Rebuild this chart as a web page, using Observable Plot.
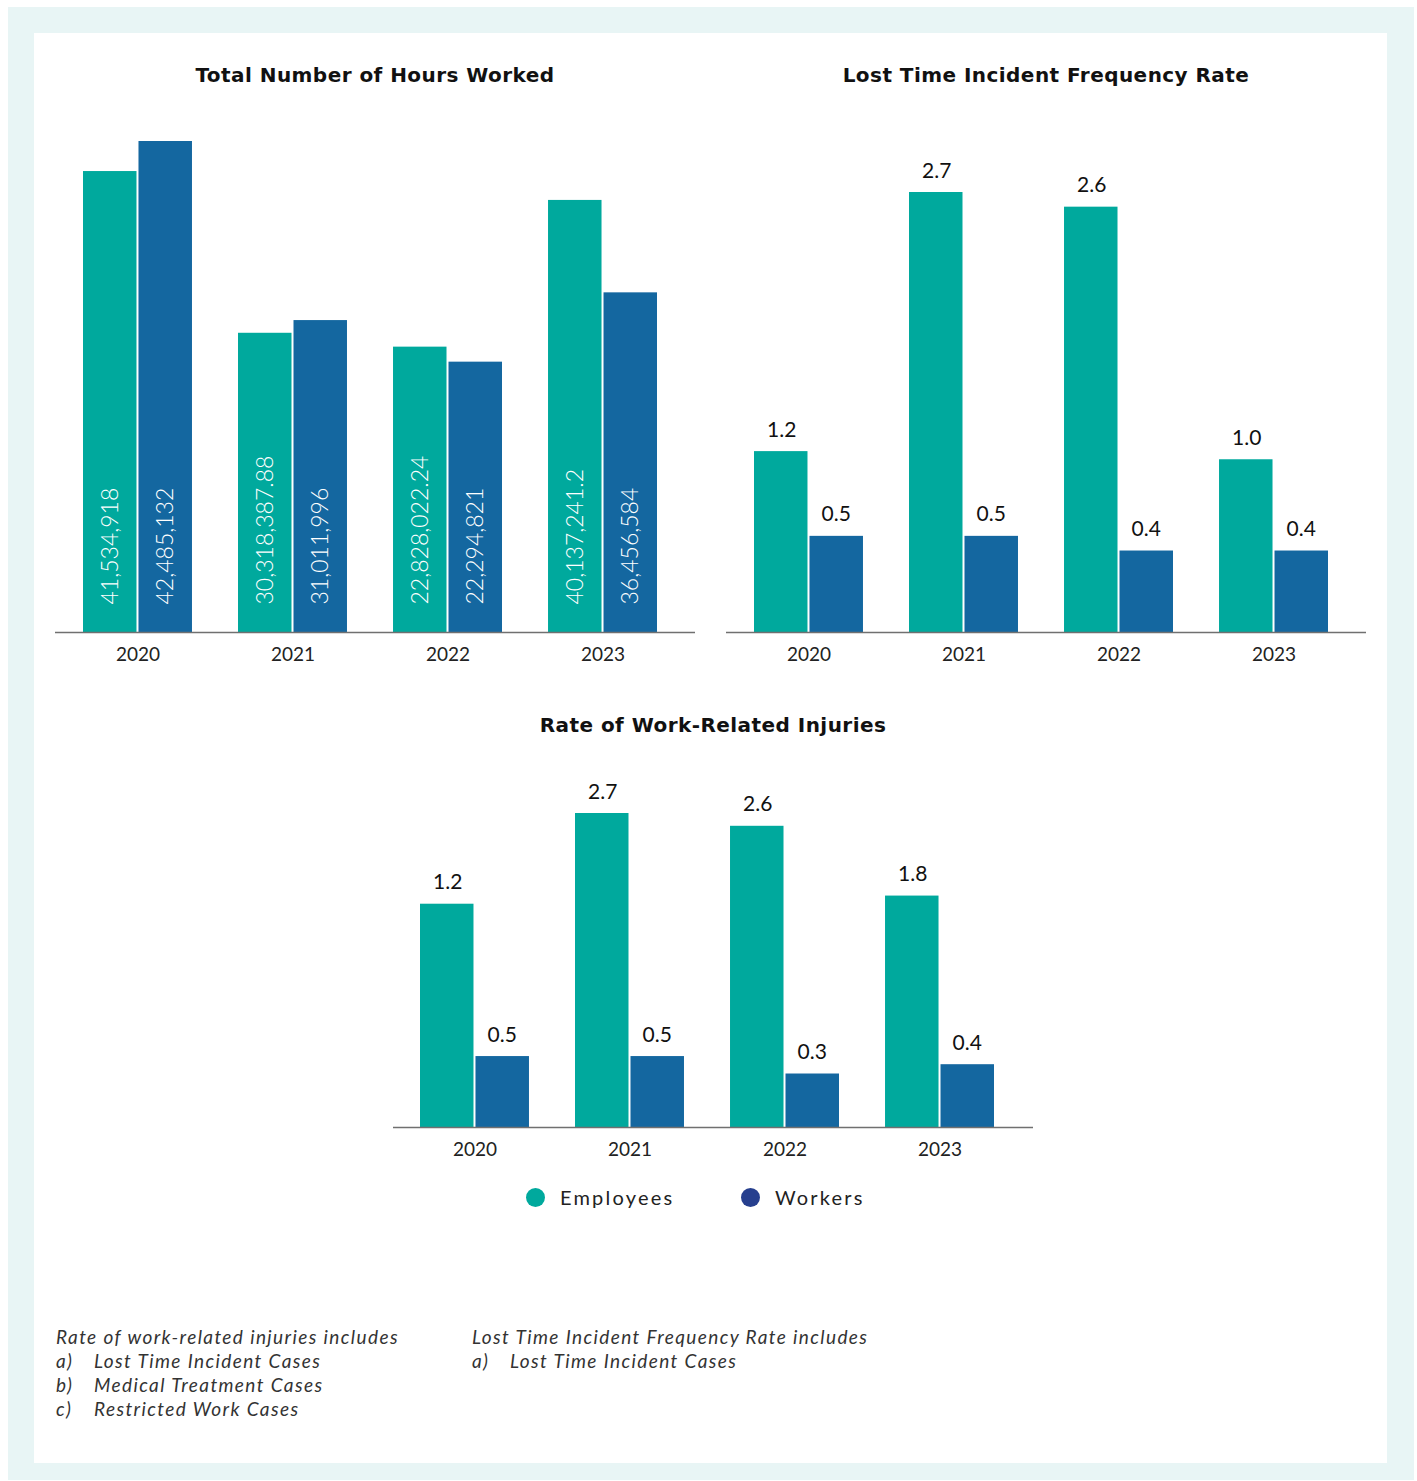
<!DOCTYPE html>
<html><head><meta charset="utf-8">
<script src="https://cdn.jsdelivr.net/npm/d3@7"></script>
<script src="https://cdn.jsdelivr.net/npm/@observablehq/plot@0.6"></script>
<style>
body{margin:0;background:#fff;font-family:Lato,"Noto Sans",sans-serif;}
#page{position:relative;width:1417px;height:1481px;overflow:hidden;}
#outer{position:absolute;left:8px;top:7px;width:1406px;height:1473px;background:#e8f5f5;}
#inner{position:absolute;left:34px;top:33px;width:1353px;height:1430px;background:#fff;}
.title{position:absolute;font-family:"DejaVu Sans",sans-serif;font-weight:700;font-size:20px;letter-spacing:0.45px;color:#111;transform:translate(-50%,-50%);white-space:nowrap;}
.chart{position:absolute;}
.legend{position:absolute;top:1185px;height:24px;display:flex;align-items:center;font-size:20px;letter-spacing:2.2px;color:#222;}
.legend .dot{width:19px;height:19px;border-radius:50%;margin-right:15px;}
.notes{position:absolute;top:1325px;font-style:italic;font-size:19px;letter-spacing:1.4px;line-height:24px;color:#333;white-space:nowrap;}
.notes span.k{display:inline-block;width:38px;}
</style></head>
<body><div id="page"><div id="outer"></div><div id="inner"></div></div>
<script>
const years = ["2020", "2021", "2022", "2023"];
const seriesNames = ["Employees", "Workers"];
const barColors = ["#00a99d", "#1467a0"];
const legendColors = ["#00a99d", "#263f8e"];

// Total Number of Hours Worked (labels)
const hoursEmployees = [41534918, 30318387.88, 22828022.24, 40137241.2];
const hoursWorkers = [42485132, 31011996, 22294821, 36456584];
// bar lengths as drawn in the reference (millions; the reference bars are not to scale)
const hoursEmployeesBar = [39.9, 25.9, 24.7, 37.4];
const hoursWorkersBar = [42.5, 27.0, 23.4, 29.4];

// Lost Time Incident Frequency Rate
const ltifrEmployees = [1.2, 2.7, 2.6, 1.0];
const ltifrWorkers = [0.5, 0.5, 0.4, 0.4];
const ltifrEmployeesBar = [1.11, 2.7, 2.61, 1.06];
const ltifrWorkersBar = [0.59, 0.59, 0.50, 0.50];

// Rate of Work-Related Injuries
const injEmployees = [1.2, 2.7, 2.6, 1.8];
const injWorkers = [0.5, 0.5, 0.3, 0.4];
const injEmployeesBar = [1.92, 2.7, 2.59, 1.99];
const injWorkersBar = [0.61, 0.61, 0.46, 0.54];

const titles = ["Total Number of Hours Worked", "Lost Time Incident Frequency Rate", "Rate of Work-Related Injuries"];
const noteLeft = ["Rate of work-related injuries includes", ["a)", "Lost Time Incident Cases"], ["b)", "Medical Treatment Cases"], ["c)", "Restricted Work Cases"]];
const noteRight = ["Lost Time Incident Frequency Rate includes", ["a)", "Lost Time Incident Cases"]];

const page = document.getElementById("page");
const PAD = 0.297;

function chart({emp, wrk, empBar, wrkBar, fmt, inside, left, top, width, height, marginLeft, marginRight, marginTop, marginBottom, xRange, yMax}) {
  const data = years.map((y, i) => ({year: y, emp: empBar[i], wrk: wrkBar[i], empL: fmt(emp[i]), wrkL: fmt(wrk[i])}));
  const step = (xRange[1] - xRange[0]) / (years.length - PAD);
  const bw = step * (1 - PAD);
  const inset = bw / 2 + 1;
  const off = (bw - 2) / 4 + 0.5;
  const marks = [
    Plot.barY(data, {x: "year", y: "emp", fill: barColors[0], insetRight: inset}),
    Plot.barY(data, {x: "year", y: "wrk", fill: barColors[1], insetLeft: inset}),
    Plot.ruleY([0], {stroke: "#707070", strokeWidth: 1.5})
  ];
  if (inside) {
    marks.push(Plot.text(data, {x: "year", y: d => 0, text: "empL", rotate: -90, textAnchor: "start", lineAnchor: "middle", dx: -off, dy: -28, fill: "#fff", fontSize: 23, fontWeight: 300}));
    marks.push(Plot.text(data, {x: "year", y: d => 0, text: "wrkL", rotate: -90, textAnchor: "start", lineAnchor: "middle", dx: off, dy: -28, fill: "#fff", fontSize: 23, fontWeight: 300}));
  } else {
    marks.push(Plot.text(data, {x: "year", y: "emp", text: "empL", lineAnchor: "bottom", dx: -off, dy: -15, fill: "#111", fontSize: 21}));
    marks.push(Plot.text(data, {x: "year", y: "wrk", text: "wrkL", lineAnchor: "bottom", dx: off, dy: -15, fill: "#111", fontSize: 21}));
  }
  const svg = Plot.plot({
    width, height, marginLeft, marginRight, marginTop, marginBottom,
    style: {fontFamily: "Lato, 'Noto Sans', sans-serif", fontSize: "19px", color: "#222", background: "transparent", overflow: "visible"},
    x: {domain: years, range: xRange, paddingInner: PAD, paddingOuter: 0, round: false, tickSize: 0, tickPadding: 15, label: null},
    y: {domain: [0, yMax], axis: null},
    marks
  });
  svg.classList.add("chart");
  svg.style.left = left + "px";
  svg.style.top = top + "px";
  svg.style.position = "absolute";
  page.appendChild(svg);
}

chart({emp: hoursEmployees, wrk: hoursWorkers, empBar: hoursEmployeesBar, wrkBar: hoursWorkersBar, fmt: d3.format(","), inside: true,
  left: 40, top: 120, width: 680, height: 570, marginLeft: 15, marginRight: 25, marginTop: 21, marginBottom: 58, xRange: [43, 617], yMax: 42.5});
chart({emp: ltifrEmployees, wrk: ltifrWorkers, empBar: ltifrEmployeesBar, wrkBar: ltifrWorkersBar, fmt: d3.format(".1f"), inside: false,
  left: 710, top: 120, width: 680, height: 570, marginLeft: 16, marginRight: 24, marginTop: 72, marginBottom: 58, xRange: [44, 618], yMax: 2.7});
chart({emp: injEmployees, wrk: injWorkers, empBar: injEmployeesBar, wrkBar: injWorkersBar, fmt: d3.format(".1f"), inside: false,
  left: 380, top: 760, width: 680, height: 420, marginLeft: 13, marginRight: 27, marginTop: 53, marginBottom: 53, xRange: [40, 614], yMax: 2.7});

// titles
[[375, 75], [1046, 75], [713, 725]].forEach(([x, y], i) => {
  const d = document.createElement("div");
  d.className = "title"; d.textContent = titles[i];
  d.style.left = x + "px"; d.style.top = y + "px";
  page.appendChild(d);
});

// legend
[[526, 0], [741, 1]].forEach(([x, i]) => {
  const item = document.createElement("div");
  item.className = "legend"; item.style.left = x + "px";
  const dot = document.createElement("div");
  dot.className = "dot"; dot.style.background = legendColors[i];
  const t = document.createElement("span"); t.textContent = seriesNames[i];
  item.appendChild(dot); item.appendChild(t);
  page.appendChild(item);
});

// notes
[[56, noteLeft], [472, noteRight]].forEach(([x, lines]) => {
  const d = document.createElement("div");
  d.className = "notes"; d.style.left = x + "px";
  lines.forEach(l => {
    const row = document.createElement("div");
    if (typeof l === "string") row.textContent = l;
    else { const k = document.createElement("span"); k.className = "k"; k.textContent = l[0]; row.appendChild(k); row.appendChild(document.createTextNode(l[1])); }
    d.appendChild(row);
  });
  page.appendChild(d);
});
</script></body></html>
